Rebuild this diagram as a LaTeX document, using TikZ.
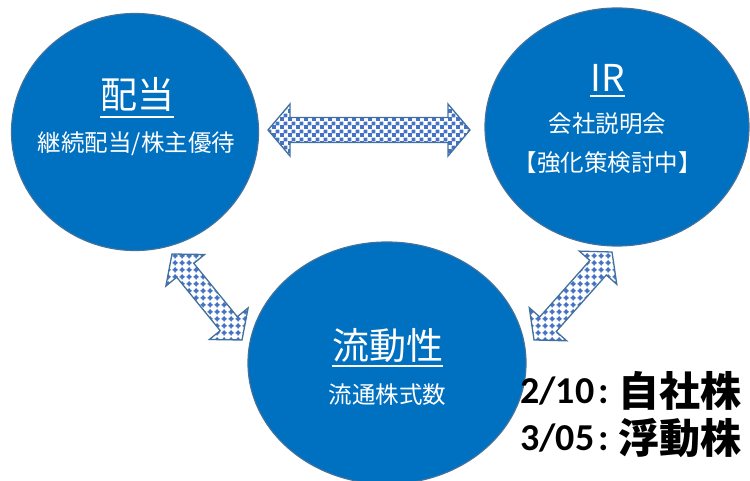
\documentclass[tikz,border=0pt]{standalone}
\usepackage{fontspec}
\usetikzlibrary{patterns,calc,shapes.geometric}
\newfontfamily\jp{Noto Sans CJK JP}
\newfontfamily\carl{Carlito}
\definecolor{circblue}{HTML}{0070C0}
\definecolor{edgeblue}{HTML}{41719C}
\definecolor{patblue}{HTML}{4472C4}
\pgfdeclarepatternformonly{bigchecker}{\pgfpointorigin}{\pgfqpoint{8pt}{8pt}}{\pgfqpoint{8pt}{8pt}}{%
  \pgfpathrectangle{\pgfpointorigin}{\pgfqpoint{4.2pt}{4.2pt}}%
  \pgfpathrectangle{\pgfqpoint{4pt}{4pt}}{\pgfqpoint{4.2pt}{4.2pt}}%
  \pgfusepath{fill}}
\pgfdeclarepatternformonly{plusdots}{\pgfpointorigin}{\pgfqpoint{6.6pt}{6.6pt}}{\pgfqpoint{6.6pt}{6.6pt}}{%
  \pgfpathcircle{\pgfqpoint{3.3pt}{3.3pt}}{2.1pt}\pgfusepath{fill}%
  \pgfpathrectangle{\pgfqpoint{0.5pt}{2.7pt}}{\pgfqpoint{5.6pt}{1.2pt}}\pgfusepath{fill}%
  \pgfpathrectangle{\pgfqpoint{2.7pt}{0.5pt}}{\pgfqpoint{1.2pt}{5.6pt}}\pgfusepath{fill}}
\tikzset{
  circ/.style={ellipse, fill=circblue, draw=edgeblue, line width=1.2pt, inner sep=0pt},
  arrowbox/.style={draw=edgeblue, line width=1.3pt, line join=miter},
  checkfill/.style={pattern=bigchecker, pattern color=patblue},
  dotfill/.style={pattern=plusdots, pattern color=patblue},
  title/.style={text=white, inner sep=0pt, font=\jp\fontsize{37}{37}\selectfont},
  subtitle/.style={text=white, inner sep=0pt, font=\jp\fontsize{23.5}{23.5}\selectfont},
  uline/.style={draw=white, line width=2pt},
  datestyle/.style={text=black, inner sep=0pt, anchor=base west, font=\bfseries\fontsize{38}{38}\selectfont}
}
\newcommand\cjkbig[1]{{\jp\fontsize{41}{41}\selectfont\raisebox{-3pt}{#1}}}
% #1 from, #2 to, #3 head length, #4 head half width, #5 shaft half width, #6 fill style
\newcommand\blockarrow[6]{%
  \draw[arrowbox,#6] let \p1=(#1), \p2=(#2), \n1={atan2(\y2-\y1,\x2-\x1)}, \n2={veclen(\x2-\x1,\y2-\y1)} in
    [shift={(\p1)}, rotate=\n1]
    (0pt,0pt) -- (#3pt,#4pt) -- (#3pt,#5pt) -- ({\n2-#3pt},#5pt) -- ({\n2-#3pt},#4pt) -- (\n2,0pt)
    -- ({\n2-#3pt},-#4pt) -- ({\n2-#3pt},-#5pt) -- (#3pt,-#5pt) -- (#3pt,-#4pt) -- cycle;}
\begin{document}
\begin{tikzpicture}[x=1pt,y=-1pt]
\useasboundingbox (0,0) rectangle (750,481);
% arrow end points
\coordinate (hA) at (268,130);
\coordinate (hB) at (470,130);
\coordinate (lA) at (172,254);
\coordinate (lB) at (242,340);
\coordinate (rA) at (612,252);
\coordinate (rB) at (534,340);
\blockarrow{hA}{hB}{22}{26}{12.5}{checkfill}
\blockarrow{lA}{lB}{21}{25}{11}{dotfill}
\blockarrow{rA}{rB}{21}{25}{11}{dotfill}
% circles
\node[circ, minimum width=247, minimum height=237] (div) at (135,132) {};
\node[circ, minimum width=264, minimum height=238] (ir) at (617,127) {};
\node[circ, minimum width=278, minimum height=242] (liq) at (387,363) {};
% texts
\node[title] (t1) at (137,94.5) {配当};
\node[subtitle] (s1) at (136.5,143.5) {継続配当/株主優待};
\node[title] (t2) at (607.5,77.5) {IR};
\node[subtitle] (s2a) at (607.5,123.5) {会社説明会};
\node[subtitle] (s2b) at (607.5,162.5) {【強化策検討中】};
\node[title] (t3) at (387.5,345.5) {流動性};
\node[subtitle] (s3) at (387.5,394.5) {流通株式数};
\draw[uline] ([yshift=-5pt]t1.south west) -- ([yshift=-5pt]t1.south east);
\draw[uline] ([yshift=-5pt]t2.south west) -- ([yshift=-5pt]t2.south east);
\draw[uline] ([yshift=-3pt]t3.south west) -- ([yshift=-3pt]t3.south east);
% dates
\node[datestyle] (d1) at (520,403) {\carl 2/10\kern4pt:\kern10pt\cjkbig{自社株}};
\node[datestyle] (d2) at (520,450) {\carl 3/05\kern4pt:\kern10pt\cjkbig{浮動株}};
\end{tikzpicture}
\end{document}
